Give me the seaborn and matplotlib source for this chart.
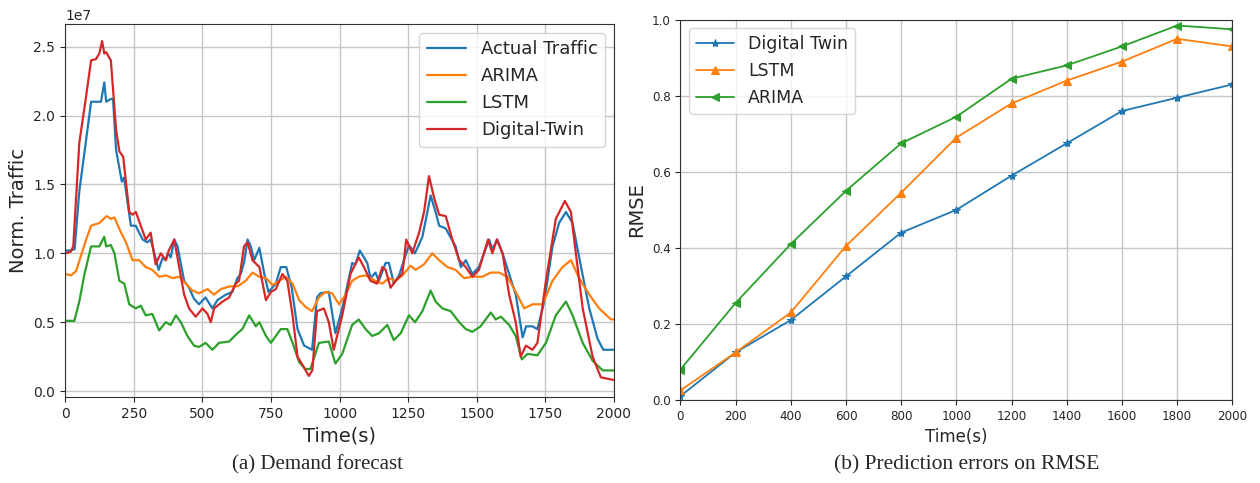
import numpy as np
import pandas as pd
import matplotlib
matplotlib.use("Agg")
import matplotlib.pyplot as plt
import seaborn as sns

# ---------------- Data (left: traffic, in units of 1e7) ----------------
t_actual = [0, 20, 35, 52, 74, 95, 131, 143, 150, 167, 175, 186, 207, 215, 240, 258, 270, 283,
            300, 312, 341, 356, 367, 375, 385, 398, 410, 434, 452, 470, 488, 512, 537, 555,
            586, 610, 628, 640, 652, 665, 677, 689, 708, 726, 741, 755, 768, 786, 806, 826,
            847, 871, 900, 918, 930, 961, 985, 1010, 1028, 1046, 1058, 1074, 1101, 1113, 1131,
            1143, 1168, 1180, 1198, 1217, 1235, 1253, 1275, 1302, 1332, 1350, 1363, 1387, 1423,
            1442, 1460, 1484, 1508, 1545, 1557, 1575, 1594, 1618, 1642, 1667, 1680, 1703, 1721,
            1746, 1776, 1800, 1825, 1849, 1880, 1910, 1940, 1961, 2000]
v_actual = [1.02, 1.02, 1.03, 1.45, 1.78, 2.10, 2.10, 2.24, 2.10, 2.12, 2.12, 1.75, 1.52, 1.55,
            1.20, 1.20, 1.15, 1.10, 1.08, 1.10, 0.88, 0.97, 0.95, 1.00, 0.97, 1.10, 1.05, 0.80,
            0.75, 0.67, 0.63, 0.68, 0.60, 0.66, 0.70, 0.72, 0.82, 0.85, 0.93, 1.10, 1.05, 0.95,
            1.04, 0.85, 0.72, 0.75, 0.78, 0.90, 0.90, 0.75, 0.45, 0.33, 0.30, 0.68, 0.71, 0.72,
            0.42, 0.60, 0.76, 0.93, 0.92, 1.02, 0.93, 0.82, 0.86, 0.80, 0.93, 0.93, 0.78, 0.84,
            0.95, 1.06, 1.00, 1.12, 1.42, 1.30, 1.20, 1.18, 1.05, 0.90, 0.95, 0.85, 0.90, 1.10,
            1.03, 1.10, 1.00, 0.85, 0.70, 0.39, 0.47, 0.47, 0.45, 0.65, 1.05, 1.22, 1.30, 1.22,
            0.90, 0.60, 0.38, 0.30, 0.30]

t_arima = [0, 22, 40, 77, 95, 125, 152, 167, 180, 204, 222, 246, 270, 294, 318, 343, 367, 392,
           416, 440, 464, 488, 519, 543, 568, 598, 628, 658, 683, 708, 732, 756, 780, 804, 829,
           853, 877, 900, 925, 949, 973, 998, 1022, 1046, 1070, 1095, 1131, 1156, 1180, 1204,
           1229, 1259, 1277, 1308, 1338, 1363, 1393, 1423, 1454, 1484, 1520, 1551, 1581, 1612,
           1642, 1673, 1703, 1740, 1776, 1812, 1843, 1873, 1910, 1946, 1989, 2000]
v_arima = [0.85, 0.84, 0.87, 1.10, 1.20, 1.22, 1.27, 1.25, 1.26, 1.15, 1.08, 0.95, 0.95, 0.90,
           0.88, 0.83, 0.84, 0.82, 0.83, 0.78, 0.73, 0.71, 0.74, 0.70, 0.74, 0.76, 0.76, 0.80,
           0.86, 0.83, 0.82, 0.77, 0.80, 0.83, 0.78, 0.66, 0.61, 0.58, 0.68, 0.72, 0.71, 0.63,
           0.70, 0.80, 0.83, 0.84, 0.80, 0.78, 0.82, 0.80, 0.84, 0.91, 0.88, 0.92, 1.00, 0.95,
           0.90, 0.88, 0.82, 0.83, 0.83, 0.86, 0.86, 0.83, 0.72, 0.60, 0.63, 0.63, 0.80, 0.90,
           0.95, 0.82, 0.70, 0.60, 0.52, 0.52]

t_lstm = [0, 34, 52, 71, 95, 125, 143, 150, 167, 180, 198, 216, 234, 258, 276, 294, 318, 343,
          367, 385, 404, 422, 446, 470, 488, 512, 537, 561, 598, 628, 646, 671, 695, 708, 732,
          750, 768, 786, 810, 829, 853, 876, 894, 925, 961, 985, 1010, 1046, 1070, 1095, 1119,
          1144, 1174, 1198, 1223, 1253, 1275, 1302, 1332, 1350, 1375, 1405, 1436, 1460, 1484,
          1514, 1551, 1569, 1588, 1618, 1642, 1664, 1685, 1721, 1752, 1788, 1825, 1849, 1886,
          1922, 1959, 2000]
v_lstm = [0.51, 0.51, 0.65, 0.85, 1.05, 1.05, 1.12, 1.05, 1.06, 1.00, 0.80, 0.78, 0.63, 0.60,
          0.62, 0.55, 0.56, 0.44, 0.50, 0.48, 0.55, 0.50, 0.40, 0.33, 0.32, 0.35, 0.30, 0.35,
          0.36, 0.42, 0.45, 0.55, 0.47, 0.50, 0.40, 0.35, 0.40, 0.45, 0.45, 0.35, 0.21, 0.16,
          0.16, 0.35, 0.36, 0.20, 0.27, 0.48, 0.52, 0.45, 0.40, 0.42, 0.48, 0.37, 0.42, 0.55,
          0.50, 0.58, 0.73, 0.65, 0.60, 0.58, 0.50, 0.45, 0.43, 0.47, 0.57, 0.52, 0.54, 0.48,
          0.40, 0.23, 0.27, 0.26, 0.35, 0.55, 0.65, 0.55, 0.35, 0.22, 0.15, 0.15]

t_twin = [0, 20, 30, 52, 74, 95, 113, 125, 135, 143, 150, 167, 186, 198, 212, 234, 246, 258,
          276, 294, 312, 330, 349, 367, 378, 398, 416, 434, 452, 476, 501, 519, 531, 543, 574,
          598, 622, 634, 652, 665, 683, 708, 732, 750, 768, 792, 810, 829, 847, 871, 888, 901,
          918, 943, 961, 979, 1010, 1040, 1070, 1089, 1113, 1137, 1156, 1168, 1186, 1204, 1229,
          1243, 1265, 1290, 1308, 1326, 1345, 1363, 1387, 1411, 1436, 1460, 1484, 1508, 1541,
          1557, 1573, 1594, 1618, 1642, 1660, 1679, 1703, 1721, 1752, 1788, 1821, 1843, 1861,
          1886, 1922, 1952, 2000]
v_twin = [1.00, 1.01, 1.05, 1.80, 2.10, 2.40, 2.41, 2.45, 2.54, 2.45, 2.46, 2.40, 1.90, 1.74,
          1.70, 1.30, 1.28, 1.30, 1.20, 1.10, 1.15, 0.92, 1.00, 0.95, 1.02, 1.10, 0.90, 0.70,
          0.60, 0.54, 0.60, 0.56, 0.50, 0.60, 0.65, 0.68, 0.78, 0.80, 1.05, 1.08, 0.95, 0.90,
          0.66, 0.72, 0.74, 0.85, 0.80, 0.55, 0.25, 0.17, 0.11, 0.15, 0.58, 0.60, 0.50, 0.30,
          0.55, 0.85, 0.97, 0.90, 0.80, 0.78, 0.90, 0.88, 0.75, 0.80, 0.85, 1.10, 1.00, 1.15,
          1.30, 1.56, 1.40, 1.28, 1.27, 1.10, 0.95, 0.90, 0.83, 0.88, 1.10, 1.00, 1.10, 1.00,
          0.70, 0.50, 0.25, 0.33, 0.30, 0.35, 0.80, 1.25, 1.38, 1.30, 1.00, 0.60, 0.25, 0.10,
          0.08]

# ---------------- Data (right: RMSE) ----------------
rmse_time = [0, 200, 400, 600, 800, 1000, 1200, 1400, 1600, 1800, 2000]
rmse_twin = [0.01, 0.125, 0.21, 0.325, 0.44, 0.50, 0.59, 0.675, 0.76, 0.795, 0.83]
rmse_lstm = [0.025, 0.125, 0.23, 0.405, 0.545, 0.69, 0.78, 0.84, 0.89, 0.95, 0.93]
rmse_arima = [0.08, 0.255, 0.41, 0.55, 0.675, 0.745, 0.845, 0.88, 0.93, 0.985, 0.975]

# ---------------- Style ----------------
sns.set_style("ticks")
plt.rcParams["font.family"] = ["DejaVu Sans"]
plt.rcParams["axes.edgecolor"] = "#333333"
palette = sns.color_palette("tab10")
blue, orange, green, red = palette[0], palette[1], palette[2], palette[3]
grid_col = "#c6c6c6"

fig = plt.figure(figsize=(12.6, 4.83), dpi=100)
ax1 = fig.add_axes([0.0516, 0.178, 0.4357, 0.772])
ax2 = fig.add_axes([0.540, 0.172, 0.438, 0.787])

# ---------------- Left chart ----------------
left_series = [
    ("Actual Traffic", t_actual, v_actual, blue),
    ("ARIMA", t_arima, v_arima, orange),
    ("LSTM", t_lstm, v_lstm, green),
    ("Digital-Twin", t_twin, v_twin, red),
]
for name, tt, vv, col in left_series:
    df = pd.DataFrame({"t": tt, "v": np.array(vv) * 1e7})
    sns.lineplot(data=df, x="t", y="v", ax=ax1, color=col, lw=1.6, label=name)

ax1.set_xlim(0, 2000)
ax1.set_xticks([0, 250, 500, 750, 1000, 1250, 1500, 1750, 2000])
ax1.set_yticks([0, 0.5e7, 1.0e7, 1.5e7, 2.0e7, 2.5e7])
ax1.grid(True, color=grid_col, lw=1.0)
ax1.set_xlabel("Time(s)", fontsize=14)
ax1.set_ylabel("Norm. Traffic", fontsize=14)
ax1.tick_params(labelsize=10)
ax1.legend(loc="upper right", fontsize=13, framealpha=0.8, handlelength=2.2)

# ---------------- Right chart ----------------
right_series = [
    ("Digital Twin", rmse_twin, blue, "*"),
    ("LSTM", rmse_lstm, orange, "^"),
    ("ARIMA", rmse_arima, green, "<"),
]
for name, vv, col, mk in right_series:
    df = pd.DataFrame({"t": rmse_time, "v": vv})
    sns.lineplot(data=df, x="t", y="v", ax=ax2, color=col, lw=1.3, marker=mk,
                 markersize=6, markeredgecolor=col, label=name)

ax2.set_xlim(0, 2000)
ax2.set_ylim(0, 1.0)
ax2.set_xticks(rmse_time)
ax2.set_yticks([0, 0.2, 0.4, 0.6, 0.8, 1.0])
ax2.grid(True, color=grid_col, lw=1.0)
ax2.set_xlabel("Time(s)", fontsize=12)
ax2.set_ylabel("RMSE", fontsize=14)
ax2.tick_params(labelsize=9.5)
for lab in ax2.get_xticklabels() + ax2.get_yticklabels():
    lab.set_fontstretch("condensed")
ax2.legend(loc="upper left", fontsize=12.5, framealpha=0.8, handlelength=2.2)

# ---------------- Captions ----------------
fig.text(0.252, 0.038, "(a) Demand forecast", ha="center", va="center",
         fontsize=15, family=["Liberation Serif", "DejaVu Serif"])
fig.text(0.767, 0.038, "(b) Prediction errors on RMSE", ha="center", va="center",
         fontsize=15.5, family=["Liberation Serif", "DejaVu Serif"])

fig.savefig("out.png", dpi=100)
